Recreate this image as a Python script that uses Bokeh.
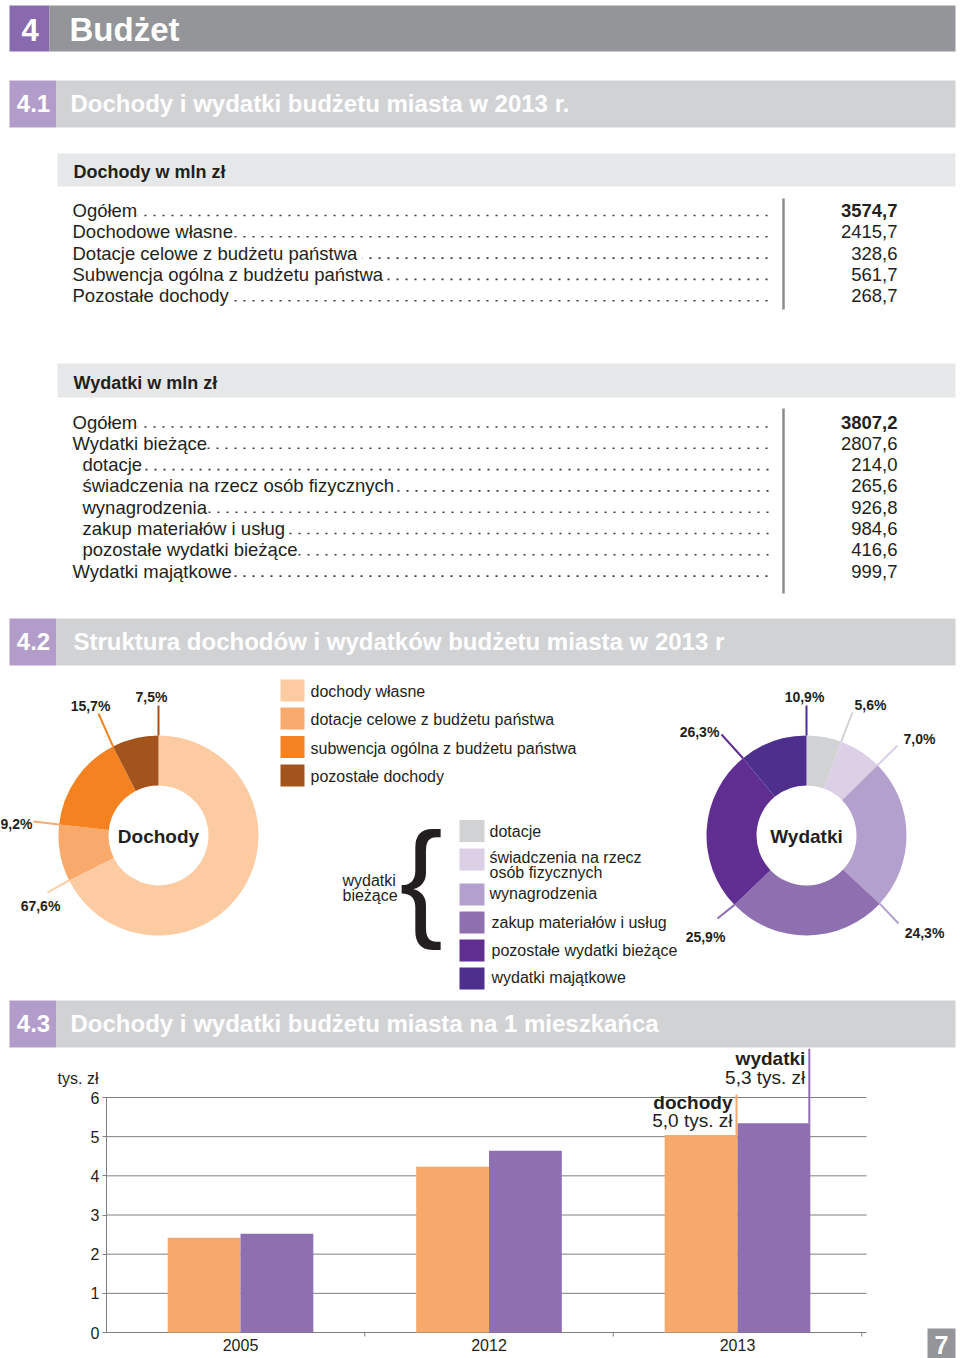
import numpy as np
from bokeh.plotting import figure
from bokeh.models import ColumnDataSource, LabelSet, Range1d, FactorRange, FixedTicker, Spacer
from bokeh.layouts import column, row
from bokeh.transform import dodge
from bokeh.core.properties import value
from bokeh.embed import file_html
from bokeh.resources import INLINE

FONT = "Liberation Sans"
INK = "#231f20"

# ---------------- data ----------------
doch_rows = ["Ogółem", "Dochodowe własne", "Dotacje celowe  z budżetu państwa",
             "Subwencja ogólna z budżetu państwa", "Pozostałe dochody"]
doch_vals = [3574.7, 2415.7, 328.6, 561.7, 268.7]

wyd_rows = ["Ogółem", "Wydatki bieżące", "dotacje", "świadczenia na rzecz osób fizycznych",
            "wynagrodzenia", "zakup materiałów i usług", "pozostałe wydatki bieżące",
            "Wydatki majątkowe"]
wyd_vals = [3807.2, 2807.6, 214.0, 265.6, 926.8, 984.6, 416.6, 999.7]
wyd_indent = [0, 0, 1, 1, 1, 1, 1, 0]

inc_names = ["dochody własne", "dotacje celowe z budżetu państwa",
             "subwencja ogólna z budżetu państwa", "pozostałe dochody"]
inc_vals = [2415.7, 328.6, 561.7, 268.7]
inc_colors = ["#fccba1", "#f8aa6d", "#f48220", "#a3531c"]

exp_names = ["dotacje", "świadczenia na rzecz", "wynagrodzenia", "zakup materiałów i usług",
             "pozostałe wydatki bieżące", "wydatki majątkowe"]
exp_vals = [214.0, 265.6, 926.8, 984.6, 416.6, 999.7]
exp_colors = ["#d1d2d4", "#dcd0e7", "#b3a0cc", "#8e70b0", "#5f2e90", "#4d2f8e"]
ring_order = [0, 1, 2, 3, 5, 4]
ring_colors = ["#d1d2d4", "#dcd0e7", "#b3a0cc", "#8e70b0", "#5f2e90", "#4d2f8e"]

years = ["2005", "2012", "2013"]
inc_per_capita = [2.42, 4.23, 5.04]
exp_per_capita = [2.52, 4.64, 5.34]
y_ticks = [0, 1, 2, 3, 4, 5, 6]


def fmt(v):
    return f"{v:.1f}".replace(".", ",")


# ---------------- figure 1 (page, pixel coordinates) ----------------
H1 = 1048
p = figure(width=960, height=H1, x_range=Range1d(0, 960), y_range=Range1d(H1, 0),
           output_backend="svg", toolbar_location=None, x_axis_type=None, y_axis_type=None,
           min_border=0)
p.outline_line_color = None
p.grid.visible = False
p.frame_align = False


def txt(xs, ys, texts, size, bold=False, color=INK, align="left"):
    p.text(x=list(xs), y=list(ys), text=list(texts), text_font=value(FONT),
           text_font_size=size, text_font_style="bold" if bold else "normal",
           text_color=color, text_align=align, text_baseline="middle")


def box(l, r, t, b, color):
    p.quad(left=[l], right=[r], top=[t], bottom=[b], fill_color=color, line_color=None)


# main header
box(9, 49, 5, 51, "#8a6aae")
box(49, 955, 5, 51, "#939598")
txt([29.5], [29], ["4"], "31px", True, "white", "center")
txt([69], [29], ["Budżet"], "33px", True, "white")

# section headers
for y0, y1, num, title, tx in [
        (80, 127, "4.1", "Dochody i wydatki budżetu miasta w 2013 r.", 70),
        (618, 665, "4.2", "Struktura dochodów i wydatków budżetu miasta w 2013 r", 73),
        (1000, 1047, "4.3", "Dochody i wydatki budżetu miasta na 1 mieszkańca", 70)]:
    box(9, 56, y0, y1, "#b29cca")
    box(56, 955, y0, y1, "#d1d2d4")
    cy = (y0 + y1) / 2 - 1
    txt([33], [cy], [num], "24px", True, "white", "center")
    txt([tx], [cy], [title], "24px", True, "white")


def table(band, header, hy, rows, vals, indent, y0, sep):
    n = len(rows)
    box(57, 955, band[0], band[1], "#e6e7e8")
    txt([73], [hy], [header], "18px", True)
    ys = [y0 + 21.3 * i for i in range(n)]
    xs = [72 + 10 * k for k in indent]
    p.segment(x0=xs, x1=[768] * n, y0=[y + 5 for y in ys], y1=[y + 5 for y in ys],
              line_dash="2 7", line_width=1.6, line_color="#3a3a3a")
    src = ColumnDataSource(dict(x=xs, y=ys, t=rows))
    p.add_layout(LabelSet(x="x", y="y", text="t", source=src, text_font=value(FONT),
                          text_font_size="18.5px", text_color=INK, text_baseline="middle",
                          background_fill_color="white"))
    txt([897], ys[:1], [fmt(vals[0])], "18.5px", True, INK, "right")
    txt([897] * (n - 1), ys[1:], [fmt(v) for v in vals[1:]], "18.5px", False, INK, "right")
    p.segment(x0=[783], x1=[783], y0=[sep[0]], y1=[sep[1]], line_width=2.5, line_color="#8c8c8c")


table((153, 186), "Dochody w mln zł", 171, doch_rows, doch_vals, [0] * 5, 210, (198, 309))
table((363, 397), "Wydatki w mln zł", 382, wyd_rows, wyd_vals, wyd_indent, 421.5, (408, 593))


def donut(cx, cy, vals, colors, order, label_xy, line_end, center_text):
    vo = [vals[i] for i in order]
    tot = sum(vo)
    frac = np.cumsum([0.0] + vo) / tot
    start = np.pi / 2 - 2 * np.pi * frac[:-1]
    end = np.pi / 2 - 2 * np.pi * frac[1:]
    n = len(vo)
    p.annular_wedge(x=[cx] * n, y=[cy] * n, inner_radius=50, outer_radius=100,
                    start_angle=list(start), end_angle=list(end), direction="clock",
                    fill_color=colors, line_color=None)
    th = 2 * np.pi * frac[1:]
    x0 = cx + 100 * np.sin(th)
    y0 = cy - 100 * np.cos(th)
    p.segment(x0=list(x0), y0=list(y0), x1=[e[0] for e in line_end], y1=[e[1] for e in line_end],
              line_color=colors, line_width=2)
    txt([l[0] for l in label_xy], [l[1] for l in label_xy],
        [fmt(100 * v / tot) + "%" for v in vo], "14px", True, INK, "center")
    txt([cx], [cy + 1], [center_text], "19px", True, INK, "center")


donut(158, 835, inc_vals, inc_colors, [0, 1, 2, 3],
      [(40, 905), (16, 823), (90, 705), (151, 696)],
      [(47, 892), (33, 821), (98, 713), (158, 705)], "Dochody")
donut(806, 835, exp_vals, ring_colors, ring_order,
      [(870, 704), (919, 738), (924, 932), (705, 936), (699, 731), (804, 696)],
      [(852, 712), (897, 745), (898, 923), (717, 918), (721, 734), (806, 705)], "Wydatki")

# legend for incomes
ly = [690, 718, 746.5, 775]
p.quad(left=[280] * 4, right=[304] * 4, top=[y - 11 for y in ly], bottom=[y + 11 for y in ly],
       fill_color=inc_colors, line_color=None)
txt([310] * 4, [y + 1 for y in ly], inc_names, "16px")

# legend for expenditures
ey = [830.5, 859, 894, 922, 950, 978]
p.quad(left=[459] * 6, right=[484] * 6, top=[y - 11 for y in ey], bottom=[y + 11 for y in ey],
       fill_color=exp_colors, line_color=None)
txt([489, 489, 489, 491, 491, 491], [831, 857, 893, 922, 950, 977], exp_names, "16px")
txt([489], [872], ["osób fizycznych"], "16px")
txt([342, 342], [880, 895], ["wydatki", "bieżące"], "16px")
txt([399], [877], ["{"], "130px", False, INK, "left")

# ---------------- figure 2 (bar chart) ----------------
X0 = 17                           # page x of the bar figure's left edge
GAP = 248.5                       # pixels per category
SIDE = ((960 - X0) / GAP - 3) / 2  # categorical padding on each side
B = 1332.0                        # page y of value 0
PPU = (B - 1097.0) / 6.0


def y_of(px):
    return (B - px) / PPU


def sx(px):
    return (px - X0) / GAP - SIDE


p2 = figure(width=960 - X0, height=1358 - H1,
            x_range=FactorRange(*years, range_padding=SIDE, range_padding_units="absolute"),
            y_range=Range1d(y_of(1358), y_of(H1)), output_backend="svg", toolbar_location=None,
            min_border=0)
p2.frame_align = False
p2.outline_line_color = None
p2.grid.visible = False
p2.yaxis.fixed_location = sx(106)
p2.xaxis.fixed_location = 0
p2.yaxis.ticker = FixedTicker(ticks=y_ticks)
p2.yaxis.bounds = (0, 6)
for ax in (p2.xaxis, p2.yaxis):
    ax.axis_line_color = "#7f7f7f"
    ax.major_tick_line_color = "#7f7f7f"
    ax.minor_tick_line_color = None
    ax.major_tick_in = 0
    ax.major_label_text_font = FONT
    ax.major_label_text_font_size = "16px"
    ax.major_label_text_color = INK
p2.yaxis.major_tick_out = 4
p2.yaxis.major_label_standoff = 3
p2.xaxis.axis_line_color = None
p2.xaxis.major_tick_line_color = None
p2.xaxis.major_tick_out = 0
p2.xaxis.major_label_standoff = 6

# horizontal gridlines (0..6) from the y axis to the right end of the plot area
p2.segment(x0=[sx(106)] * len(y_ticks), x1=[sx(866)] * len(y_ticks), y0=y_ticks, y1=y_ticks,
           line_color="#7f7f7f", line_width=1)
# small separators between the year groups
p2.segment(x0=[1, 2, 3], x1=[1, 2, 3], y0=[0] * 3, y1=[y_of(1336)] * 3,
           line_color="#7f7f7f", line_width=1)

src = ColumnDataSource(dict(year=years, inc=inc_per_capita, exp=exp_per_capita))
BW = 0.293
p2.vbar(x=dodge("year", -BW / 2, range=p2.x_range), top="inc", width=BW, source=src,
        fill_color="#f7a96b", line_color=None)
p2.vbar(x=dodge("year", BW / 2, range=p2.x_range), top="exp", width=BW, source=src,
        fill_color="#8e6fb0", line_color=None)

# annotations for the last year
xc = 2.5
p2.segment(x0=[xc - 0.004], x1=[xc - 0.004], y0=[inc_per_capita[-1]], y1=[y_of(1094)],
           line_color="#f7a96b", line_width=2)
p2.segment(x0=[xc + BW - 0.004], x1=[xc + BW - 0.004], y0=[exp_per_capita[-1]], y1=[y_of(H1)],
           line_color="#8e6fb0", line_width=2)


def txt2(xs, ys, texts, size, bold=False, color=INK, align="left", x_offset=0):
    p2.text(x=list(xs), y=list(ys), text=list(texts), x_offset=x_offset, text_font=value(FONT),
            text_font_size=size, text_font_style="bold" if bold else "normal",
            text_color=color, text_align=align, text_baseline="middle")


txt2([xc], [y_of(1102)], ["dochody"], "19px", True, INK, "right", -5)
txt2([xc], [y_of(1120)], [fmt(inc_per_capita[-1]) + " tys. zł"], "19px", False, INK, "right", -5)
txt2([xc + BW], [y_of(1058)], ["wydatki"], "19px", True, INK, "right", -5)
txt2([xc + BW], [y_of(1077)], [fmt(exp_per_capita[-1]) + " tys. zł"], "19px", False, INK, "right", -5)
txt2([sx(98)], [y_of(1078)], ["tys. zł"], "16px", False, INK, "right")

# page number box
p2.quad(left=[sx(927)], right=[sx(955)], top=[y_of(1328)], bottom=[y_of(1358)],
        fill_color="#939598", line_color=None)
txt2([sx(941)], [y_of(1344)], ["7"], "25px", True, "white", "center")

layout = column(p, row(Spacer(width=X0, height=1358 - H1), p2, spacing=0), spacing=0)
open("out.html", "w").write(file_html(layout, INLINE))
